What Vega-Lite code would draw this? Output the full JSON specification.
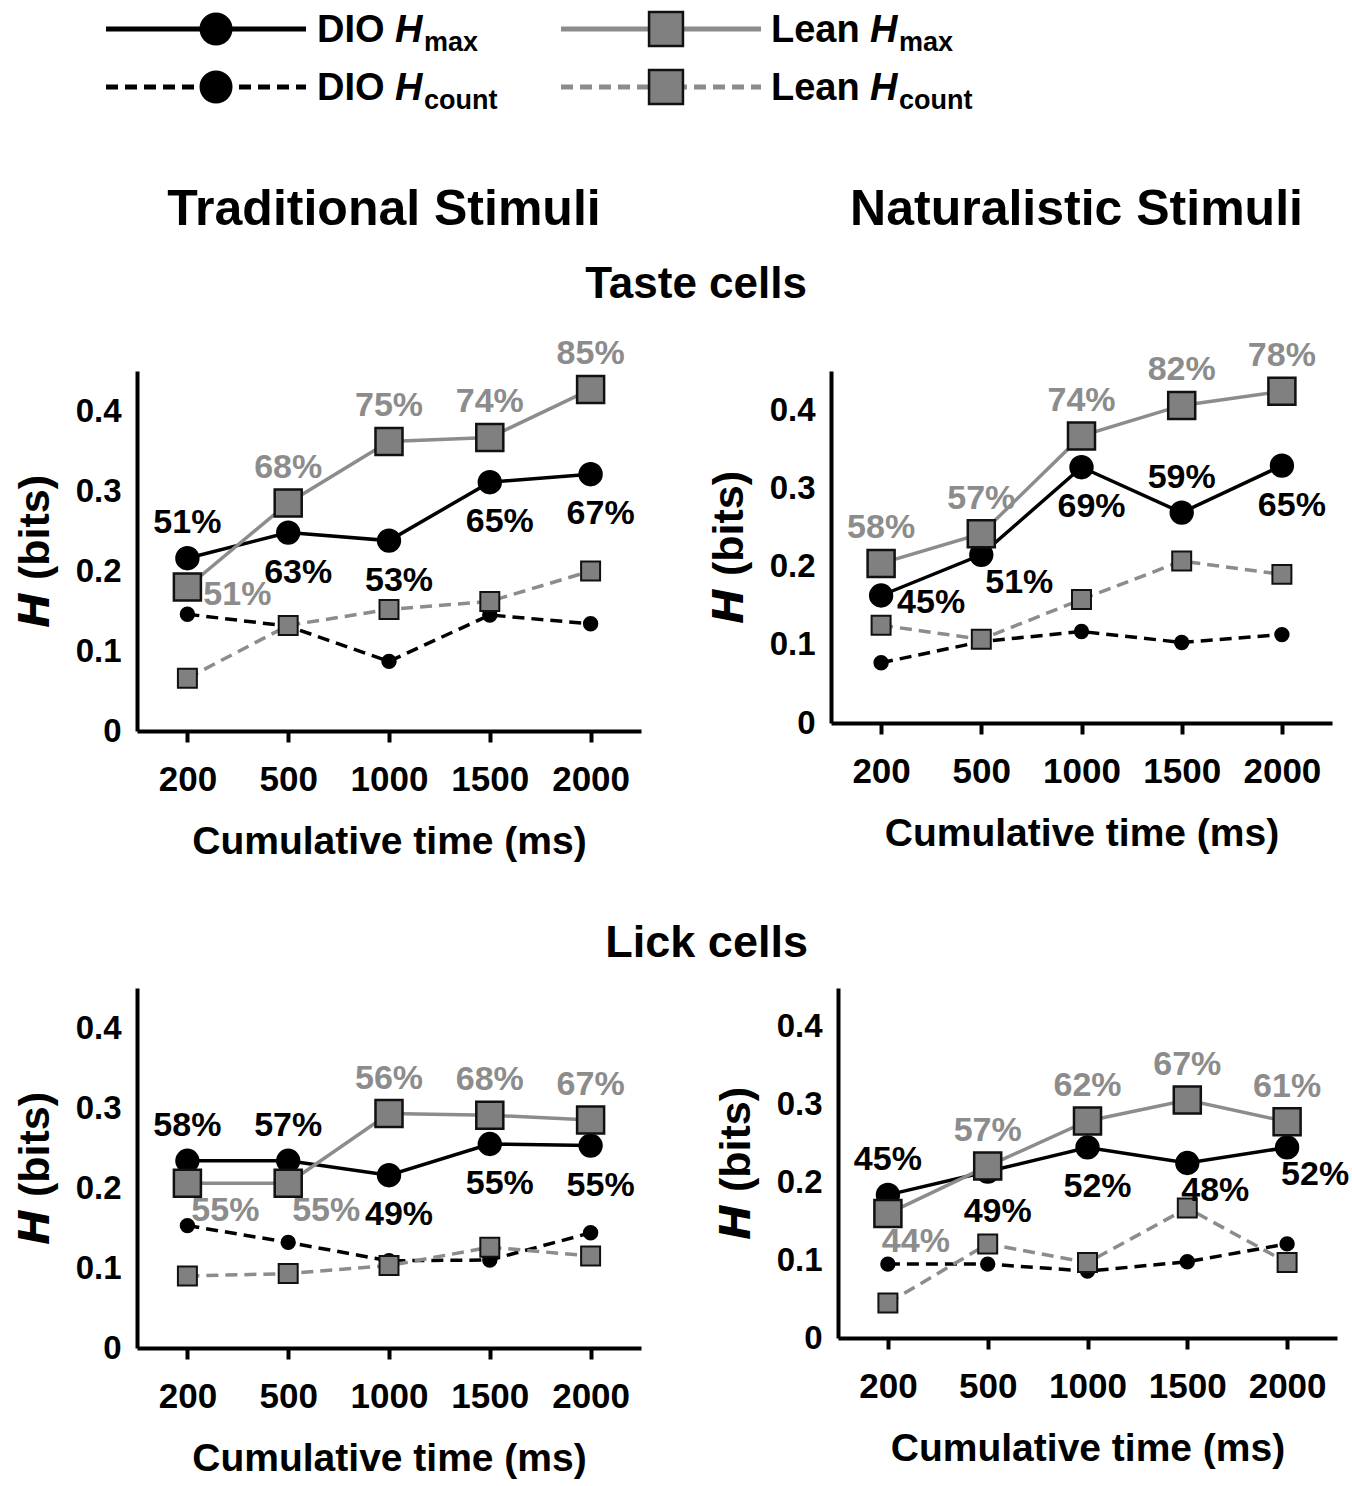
{
"$schema": "https://vega.github.io/schema/vega-lite/v6.json",
"padding": {"left": 14, "top": 0, "right": 0, "bottom": 5},
"background": "white",
"datasets": {
"leg": [{"g":"DIO","m":"max"},{"g":"Lean","m":"max"},{"g":"DIO","m":"count"},{"g":"Lean","m":"count"}],
"pts": [
{"p":"TT","t":200,"g":"DIO","m":"max","H":0.216,"lab":"51%","pos":"above"},
{"p":"TT","t":500,"g":"DIO","m":"max","H":0.248,"lab":"63%","pos":"below"},
{"p":"TT","t":1000,"g":"DIO","m":"max","H":0.238,"lab":"53%","pos":"below"},
{"p":"TT","t":1500,"g":"DIO","m":"max","H":0.311,"lab":"65%","pos":"below"},
{"p":"TT","t":2000,"g":"DIO","m":"max","H":0.321,"lab":"67%","pos":"below"},
{"p":"TT","t":200,"g":"Lean","m":"max","H":0.18,"lab":"51%","pos":"right"},
{"p":"TT","t":500,"g":"Lean","m":"max","H":0.285,"lab":"68%","pos":"above"},
{"p":"TT","t":1000,"g":"Lean","m":"max","H":0.362,"lab":"75%","pos":"above"},
{"p":"TT","t":1500,"g":"Lean","m":"max","H":0.367,"lab":"74%","pos":"above"},
{"p":"TT","t":2000,"g":"Lean","m":"max","H":0.427,"lab":"85%","pos":"above"},
{"p":"TT","t":200,"g":"DIO","m":"count","H":0.146},
{"p":"TT","t":500,"g":"DIO","m":"count","H":0.131},
{"p":"TT","t":1000,"g":"DIO","m":"count","H":0.087},
{"p":"TT","t":1500,"g":"DIO","m":"count","H":0.145},
{"p":"TT","t":2000,"g":"DIO","m":"count","H":0.134},
{"p":"TT","t":200,"g":"Lean","m":"count","H":0.066},
{"p":"TT","t":500,"g":"Lean","m":"count","H":0.132},
{"p":"TT","t":1000,"g":"Lean","m":"count","H":0.152},
{"p":"TT","t":1500,"g":"Lean","m":"count","H":0.162},
{"p":"TT","t":2000,"g":"Lean","m":"count","H":0.2},
{"p":"NT","t":200,"g":"DIO","m":"max","H":0.163,"lab":"45%","pos":"right"},
{"p":"NT","t":500,"g":"DIO","m":"max","H":0.215,"lab":"51%","pos":"belowright"},
{"p":"NT","t":1000,"g":"DIO","m":"max","H":0.327,"lab":"69%","pos":"below"},
{"p":"NT","t":1500,"g":"DIO","m":"max","H":0.269,"lab":"59%","pos":"above"},
{"p":"NT","t":2000,"g":"DIO","m":"max","H":0.329,"lab":"65%","pos":"below"},
{"p":"NT","t":200,"g":"Lean","m":"max","H":0.204,"lab":"58%","pos":"above"},
{"p":"NT","t":500,"g":"Lean","m":"max","H":0.242,"lab":"57%","pos":"above"},
{"p":"NT","t":1000,"g":"Lean","m":"max","H":0.367,"lab":"74%","pos":"above"},
{"p":"NT","t":1500,"g":"Lean","m":"max","H":0.406,"lab":"82%","pos":"above"},
{"p":"NT","t":2000,"g":"Lean","m":"max","H":0.424,"lab":"78%","pos":"above"},
{"p":"NT","t":200,"g":"DIO","m":"count","H":0.077},
{"p":"NT","t":500,"g":"DIO","m":"count","H":0.104},
{"p":"NT","t":1000,"g":"DIO","m":"count","H":0.117},
{"p":"NT","t":1500,"g":"DIO","m":"count","H":0.103},
{"p":"NT","t":2000,"g":"DIO","m":"count","H":0.113},
{"p":"NT","t":200,"g":"Lean","m":"count","H":0.125},
{"p":"NT","t":500,"g":"Lean","m":"count","H":0.107},
{"p":"NT","t":1000,"g":"Lean","m":"count","H":0.158},
{"p":"NT","t":1500,"g":"Lean","m":"count","H":0.207},
{"p":"NT","t":2000,"g":"Lean","m":"count","H":0.19},
{"p":"TL","t":200,"g":"DIO","m":"max","H":0.234,"lab":"58%","pos":"above"},
{"p":"TL","t":500,"g":"DIO","m":"max","H":0.234,"lab":"57%","pos":"above"},
{"p":"TL","t":1000,"g":"DIO","m":"max","H":0.216,"lab":"49%","pos":"below"},
{"p":"TL","t":1500,"g":"DIO","m":"max","H":0.255,"lab":"55%","pos":"below"},
{"p":"TL","t":2000,"g":"DIO","m":"max","H":0.253,"lab":"55%","pos":"below"},
{"p":"TL","t":200,"g":"Lean","m":"max","H":0.206,"lab":"55%","pos":"belowright"},
{"p":"TL","t":500,"g":"Lean","m":"max","H":0.206,"lab":"55%","pos":"belowright"},
{"p":"TL","t":1000,"g":"Lean","m":"max","H":0.293,"lab":"56%","pos":"above"},
{"p":"TL","t":1500,"g":"Lean","m":"max","H":0.291,"lab":"68%","pos":"above"},
{"p":"TL","t":2000,"g":"Lean","m":"max","H":0.285,"lab":"67%","pos":"above"},
{"p":"TL","t":200,"g":"DIO","m":"count","H":0.153},
{"p":"TL","t":500,"g":"DIO","m":"count","H":0.132},
{"p":"TL","t":1000,"g":"DIO","m":"count","H":0.109},
{"p":"TL","t":1500,"g":"DIO","m":"count","H":0.11},
{"p":"TL","t":2000,"g":"DIO","m":"count","H":0.144},
{"p":"TL","t":200,"g":"Lean","m":"count","H":0.09},
{"p":"TL","t":500,"g":"Lean","m":"count","H":0.093},
{"p":"TL","t":1000,"g":"Lean","m":"count","H":0.103},
{"p":"TL","t":1500,"g":"Lean","m":"count","H":0.126},
{"p":"TL","t":2000,"g":"Lean","m":"count","H":0.115},
{"p":"NL","t":200,"g":"DIO","m":"max","H":0.184,"lab":"45%","pos":"above"},
{"p":"NL","t":500,"g":"DIO","m":"max","H":0.214,"lab":"49%","pos":"below"},
{"p":"NL","t":1000,"g":"DIO","m":"max","H":0.245,"lab":"52%","pos":"below"},
{"p":"NL","t":1500,"g":"DIO","m":"max","H":0.225,"lab":"48%","pos":"belowright"},
{"p":"NL","t":2000,"g":"DIO","m":"max","H":0.245,"lab":"52%","pos":"belowright"},
{"p":"NL","t":200,"g":"Lean","m":"max","H":0.16,"lab":"44%","pos":"belowright"},
{"p":"NL","t":500,"g":"Lean","m":"max","H":0.221,"lab":"57%","pos":"above"},
{"p":"NL","t":1000,"g":"Lean","m":"max","H":0.279,"lab":"62%","pos":"above"},
{"p":"NL","t":1500,"g":"Lean","m":"max","H":0.306,"lab":"67%","pos":"above"},
{"p":"NL","t":2000,"g":"Lean","m":"max","H":0.278,"lab":"61%","pos":"above"},
{"p":"NL","t":200,"g":"DIO","m":"count","H":0.095},
{"p":"NL","t":500,"g":"DIO","m":"count","H":0.095},
{"p":"NL","t":1000,"g":"DIO","m":"count","H":0.086},
{"p":"NL","t":1500,"g":"DIO","m":"count","H":0.098},
{"p":"NL","t":2000,"g":"DIO","m":"count","H":0.121},
{"p":"NL","t":200,"g":"Lean","m":"count","H":0.045},
{"p":"NL","t":500,"g":"Lean","m":"count","H":0.121},
{"p":"NL","t":1000,"g":"Lean","m":"count","H":0.097},
{"p":"NL","t":1500,"g":"Lean","m":"count","H":0.167},
{"p":"NL","t":2000,"g":"Lean","m":"count","H":0.097}
]
},
"config": {
"view": {"stroke": null},
"legend": {"disable": true},
"text": {"font": "Liberation Sans", "fontWeight": "bold", "fontSize": 34},
"title": {"font": "Liberation Sans", "fontWeight": "bold", "color": "#000000", "anchor": "middle"},
"axis": {"domainColor": "#000000", "domainWidth": 4, "labelFont": "Liberation Sans", "labelFontWeight": "bold", "labelColor": "#000000", "titleFont": "Liberation Sans", "titleFontWeight": "bold", "titleColor": "#000000", "grid": false, "tickColor": "#000000", "tickWidth": 4},
"axisX": {"tickSize": 11, "labelPadding": 20, "titlePadding": 25, "titleFontSize": 39, "labelFontSize": 35, "labelAngle": 0},
"axisY": {"ticks": false, "tickSize": 0, "labelPadding": 16, "titlePadding": 18, "titleFontSize": 43, "labelFontSize": 33}
},
"spacing": 10,
"vconcat": [
{
"data": {"name": "leg"},
"width": 1058, "height": 174,
"encoding": {
"x": {"field": "g", "type": "nominal", "scale": {"type": "point", "domain": ["DIO", "Lean", "_"], "padding": 0.1756}, "axis": null},
"y": {"field": "m", "type": "nominal", "scale": {"type": "point", "domain": ["max", "count", "_"], "padding": 0.5}, "axis": null}
},
"layer": [
{"transform": [{"filter": "datum.g=='DIO'&&datum.m=='max'"}], "mark": {"type": "rule", "xOffset": -110, "x2Offset": 90, "strokeWidth": 5, "color": "#000000"}, "encoding": {"x2": {"field": "g"}}},
{"transform": [{"filter": "datum.g=='DIO'&&datum.m=='count'"}], "mark": {"type": "rule", "xOffset": -110, "x2Offset": 90, "strokeWidth": 5, "color": "#000000", "strokeDash": [12, 7]}, "encoding": {"x2": {"field": "g"}}},
{"transform": [{"filter": "datum.g=='Lean'&&datum.m=='max'"}], "mark": {"type": "rule", "xOffset": -105, "x2Offset": 95, "strokeWidth": 5, "color": "#8c8c8c"}, "encoding": {"x2": {"field": "g"}}},
{"transform": [{"filter": "datum.g=='Lean'&&datum.m=='count'"}], "mark": {"type": "rule", "xOffset": -105, "x2Offset": 95, "strokeWidth": 5, "color": "#8c8c8c", "strokeDash": [12, 7]}, "encoding": {"x2": {"field": "g"}}},
{"transform": [{"filter": "datum.g=='DIO'"}], "mark": {"type": "point", "shape": "circle", "filled": true, "size": 960, "fill": "#000000", "stroke": "#000000", "opacity": 1}},
{"transform": [{"filter": "datum.g=='Lean'"}], "mark": {"type": "point", "shape": "square", "filled": true, "size": 1150, "fill": "#808080", "stroke": "#111111", "strokeWidth": 2.5, "opacity": 1}},
{"transform": [{"filter": "datum.g=='DIO'"}], "mark": {"type": "text", "align": "left", "baseline": "alphabetic", "dx": 101, "dy": 13, "fontSize": 38}, "encoding": {"text": {"field": "g"}}},
{"transform": [{"filter": "datum.g=='DIO'"}], "mark": {"type": "text", "align": "left", "baseline": "alphabetic", "dx": 179, "dy": 13, "fontSize": 38, "fontStyle": "italic", "text": "H"}},
{"transform": [{"filter": "datum.g=='DIO'"}], "mark": {"type": "text", "align": "left", "baseline": "alphabetic", "dx": 208, "dy": 22, "fontSize": 27}, "encoding": {"text": {"field": "m"}}},
{"transform": [{"filter": "datum.g=='Lean'"}], "mark": {"type": "text", "align": "left", "baseline": "alphabetic", "dx": 105, "dy": 13, "fontSize": 38}, "encoding": {"text": {"field": "g"}}},
{"transform": [{"filter": "datum.g=='Lean'"}], "mark": {"type": "text", "align": "left", "baseline": "alphabetic", "dx": 204, "dy": 13, "fontSize": 38, "fontStyle": "italic", "text": "H"}},
{"transform": [{"filter": "datum.g=='Lean'"}], "mark": {"type": "text", "align": "left", "baseline": "alphabetic", "dx": 233, "dy": 22, "fontSize": 27}, "encoding": {"text": {"field": "m"}}}
]
},
{
"spacing": 189,
"hconcat": [
{"width": 504, "height": 1, "data": {"values": [{}]}, "mark": {"type": "point", "opacity": 0}, "title": {"text": "Traditional Stimuli", "fontSize": 50, "dx": -5, "offset": 12}},
{"width": 501, "height": 1, "data": {"values": [{}]}, "mark": {"type": "point", "opacity": 0}, "title": {"text": "Naturalistic Stimuli", "fontSize": 50, "dx": -4, "offset": 12}}
]
},
{
"spacing": 60,
"vconcat": [
{
"title": {"text": "Taste cells", "fontSize": 44, "dx": 23, "offset": 30},
"spacing": 67,
"hconcat": [
{
"width": 504, "height": 360,
"data": {"name": "pts"},
"transform": [{"filter": "datum.p=='TT'"}],
"encoding": {
"x": {"field": "t", "type": "ordinal", "scale": {"type": "point", "padding": 0.5, "domain": [200, 500, 1000, 1500, 2000]}, "title": "Cumulative time (ms)"},
"y": {"field": "H", "type": "quantitative", "scale": {"domain": [0, 0.45], "nice": false}, "axis": {"values": [0, 0.1, 0.2, 0.3, 0.4], "labelExpr": "datum.value == 0 ? '0' : format(datum.value, '.1f')"}, "title": "𝙃 (bits)"}
},
"layer": [
{"transform": [{"filter": "datum.g=='DIO'&&datum.m=='count'"}], "mark": {"type": "line", "color": "#000000", "strokeWidth": 3.5, "strokeDash": [12, 7]}, "encoding": {"order": {"field": "t", "type": "quantitative"}}},
{"transform": [{"filter": "datum.g=='Lean'&&datum.m=='count'"}], "mark": {"type": "line", "color": "#8c8c8c", "strokeWidth": 3.5, "strokeDash": [12, 7]}, "encoding": {"order": {"field": "t", "type": "quantitative"}}},
{"transform": [{"filter": "datum.g=='DIO'&&datum.m=='max'"}], "mark": {"type": "line", "color": "#000000", "strokeWidth": 3.5}, "encoding": {"order": {"field": "t", "type": "quantitative"}}},
{"transform": [{"filter": "datum.g=='Lean'&&datum.m=='max'"}], "mark": {"type": "line", "color": "#8c8c8c", "strokeWidth": 3.5}, "encoding": {"order": {"field": "t", "type": "quantitative"}}},
{"transform": [{"filter": "datum.g=='DIO'&&datum.m=='count'"}], "mark": {"type": "point", "shape": "circle", "filled": true, "size": 180, "fill": "#000000", "stroke": "#000000", "opacity": 1}},
{"transform": [{"filter": "datum.g=='Lean'&&datum.m=='count'"}], "mark": {"type": "point", "shape": "square", "filled": true, "size": 360, "fill": "#808080", "stroke": "#111111", "strokeWidth": 2, "opacity": 1}},
{"transform": [{"filter": "datum.g=='DIO'&&datum.m=='max'"}], "mark": {"type": "point", "shape": "circle", "filled": true, "size": 500, "fill": "#000000", "stroke": "#000000", "opacity": 1}},
{"transform": [{"filter": "datum.g=='Lean'&&datum.m=='max'"}], "mark": {"type": "point", "shape": "square", "filled": true, "size": 730, "fill": "#808080", "stroke": "#111111", "strokeWidth": 2.5, "opacity": 1}},
{"transform": [{"filter": "datum.pos=='above'"}], "mark": {"type": "text", "dy": -35, "baseline": "middle"}, "encoding": {"text": {"field": "lab"}, "color": {"field": "g", "type": "nominal", "scale": {"domain": ["DIO", "Lean"], "range": ["#000000", "#8c8c8c"]}, "legend": null}}},
{"transform": [{"filter": "datum.pos=='below'"}], "mark": {"type": "text", "dy": 40, "dx": 10, "baseline": "middle"}, "encoding": {"text": {"field": "lab"}, "color": {"field": "g", "type": "nominal", "scale": {"domain": ["DIO", "Lean"], "range": ["#000000", "#8c8c8c"]}, "legend": null}}},
{"transform": [{"filter": "datum.pos=='right'"}], "mark": {"type": "text", "dy": 8, "dx": 50, "baseline": "middle"}, "encoding": {"text": {"field": "lab"}, "color": {"field": "g", "type": "nominal", "scale": {"domain": ["DIO", "Lean"], "range": ["#000000", "#8c8c8c"]}, "legend": null}}},
{"transform": [{"filter": "datum.pos=='belowright'"}], "mark": {"type": "text", "dy": 28, "dx": 38, "baseline": "middle"}, "encoding": {"text": {"field": "lab"}, "color": {"field": "g", "type": "nominal", "scale": {"domain": ["DIO", "Lean"], "range": ["#000000", "#8c8c8c"]}, "legend": null}}}
]
},
{
"width": 501, "height": 352,
"data": {"name": "pts"},
"transform": [{"filter": "datum.p=='NT'"}],
"encoding": {
"x": {"field": "t", "type": "ordinal", "scale": {"type": "point", "padding": 0.5, "domain": [200, 500, 1000, 1500, 2000]}, "title": "Cumulative time (ms)"},
"y": {"field": "H", "type": "quantitative", "scale": {"domain": [0, 0.45], "nice": false}, "axis": {"values": [0, 0.1, 0.2, 0.3, 0.4], "labelExpr": "datum.value == 0 ? '0' : format(datum.value, '.1f')"}, "title": "𝙃 (bits)"}
},
"layer": [
{"transform": [{"filter": "datum.g=='DIO'&&datum.m=='count'"}], "mark": {"type": "line", "color": "#000000", "strokeWidth": 3.5, "strokeDash": [12, 7]}, "encoding": {"order": {"field": "t", "type": "quantitative"}}},
{"transform": [{"filter": "datum.g=='Lean'&&datum.m=='count'"}], "mark": {"type": "line", "color": "#8c8c8c", "strokeWidth": 3.5, "strokeDash": [12, 7]}, "encoding": {"order": {"field": "t", "type": "quantitative"}}},
{"transform": [{"filter": "datum.g=='DIO'&&datum.m=='max'"}], "mark": {"type": "line", "color": "#000000", "strokeWidth": 3.5}, "encoding": {"order": {"field": "t", "type": "quantitative"}}},
{"transform": [{"filter": "datum.g=='Lean'&&datum.m=='max'"}], "mark": {"type": "line", "color": "#8c8c8c", "strokeWidth": 3.5}, "encoding": {"order": {"field": "t", "type": "quantitative"}}},
{"transform": [{"filter": "datum.g=='DIO'&&datum.m=='count'"}], "mark": {"type": "point", "shape": "circle", "filled": true, "size": 180, "fill": "#000000", "stroke": "#000000", "opacity": 1}},
{"transform": [{"filter": "datum.g=='Lean'&&datum.m=='count'"}], "mark": {"type": "point", "shape": "square", "filled": true, "size": 360, "fill": "#808080", "stroke": "#111111", "strokeWidth": 2, "opacity": 1}},
{"transform": [{"filter": "datum.g=='DIO'&&datum.m=='max'"}], "mark": {"type": "point", "shape": "circle", "filled": true, "size": 500, "fill": "#000000", "stroke": "#000000", "opacity": 1}},
{"transform": [{"filter": "datum.g=='Lean'&&datum.m=='max'"}], "mark": {"type": "point", "shape": "square", "filled": true, "size": 730, "fill": "#808080", "stroke": "#111111", "strokeWidth": 2.5, "opacity": 1}},
{"transform": [{"filter": "datum.pos=='above'"}], "mark": {"type": "text", "dy": -35, "baseline": "middle"}, "encoding": {"text": {"field": "lab"}, "color": {"field": "g", "type": "nominal", "scale": {"domain": ["DIO", "Lean"], "range": ["#000000", "#8c8c8c"]}, "legend": null}}},
{"transform": [{"filter": "datum.pos=='below'"}], "mark": {"type": "text", "dy": 40, "dx": 10, "baseline": "middle"}, "encoding": {"text": {"field": "lab"}, "color": {"field": "g", "type": "nominal", "scale": {"domain": ["DIO", "Lean"], "range": ["#000000", "#8c8c8c"]}, "legend": null}}},
{"transform": [{"filter": "datum.pos=='right'"}], "mark": {"type": "text", "dy": 8, "dx": 50, "baseline": "middle"}, "encoding": {"text": {"field": "lab"}, "color": {"field": "g", "type": "nominal", "scale": {"domain": ["DIO", "Lean"], "range": ["#000000", "#8c8c8c"]}, "legend": null}}},
{"transform": [{"filter": "datum.pos=='belowright'"}], "mark": {"type": "text", "dy": 28, "dx": 38, "baseline": "middle"}, "encoding": {"text": {"field": "lab"}, "color": {"field": "g", "type": "nominal", "scale": {"domain": ["DIO", "Lean"], "range": ["#000000", "#8c8c8c"]}, "legend": null}}}
]
}
]
},
{
"title": {"text": "Lick cells", "fontSize": 45, "dx": 25, "offset": 22},
"spacing": 74,
"hconcat": [
{
"width": 504, "height": 360,
"data": {"name": "pts"},
"transform": [{"filter": "datum.p=='TL'"}],
"encoding": {
"x": {"field": "t", "type": "ordinal", "scale": {"type": "point", "padding": 0.5, "domain": [200, 500, 1000, 1500, 2000]}, "title": "Cumulative time (ms)"},
"y": {"field": "H", "type": "quantitative", "scale": {"domain": [0, 0.45], "nice": false}, "axis": {"values": [0, 0.1, 0.2, 0.3, 0.4], "labelExpr": "datum.value == 0 ? '0' : format(datum.value, '.1f')"}, "title": "𝙃 (bits)"}
},
"layer": [
{"transform": [{"filter": "datum.g=='DIO'&&datum.m=='count'"}], "mark": {"type": "line", "color": "#000000", "strokeWidth": 3.5, "strokeDash": [12, 7]}, "encoding": {"order": {"field": "t", "type": "quantitative"}}},
{"transform": [{"filter": "datum.g=='Lean'&&datum.m=='count'"}], "mark": {"type": "line", "color": "#8c8c8c", "strokeWidth": 3.5, "strokeDash": [12, 7]}, "encoding": {"order": {"field": "t", "type": "quantitative"}}},
{"transform": [{"filter": "datum.g=='DIO'&&datum.m=='max'"}], "mark": {"type": "line", "color": "#000000", "strokeWidth": 3.5}, "encoding": {"order": {"field": "t", "type": "quantitative"}}},
{"transform": [{"filter": "datum.g=='Lean'&&datum.m=='max'"}], "mark": {"type": "line", "color": "#8c8c8c", "strokeWidth": 3.5}, "encoding": {"order": {"field": "t", "type": "quantitative"}}},
{"transform": [{"filter": "datum.g=='DIO'&&datum.m=='count'"}], "mark": {"type": "point", "shape": "circle", "filled": true, "size": 180, "fill": "#000000", "stroke": "#000000", "opacity": 1}},
{"transform": [{"filter": "datum.g=='Lean'&&datum.m=='count'"}], "mark": {"type": "point", "shape": "square", "filled": true, "size": 360, "fill": "#808080", "stroke": "#111111", "strokeWidth": 2, "opacity": 1}},
{"transform": [{"filter": "datum.g=='DIO'&&datum.m=='max'"}], "mark": {"type": "point", "shape": "circle", "filled": true, "size": 500, "fill": "#000000", "stroke": "#000000", "opacity": 1}},
{"transform": [{"filter": "datum.g=='Lean'&&datum.m=='max'"}], "mark": {"type": "point", "shape": "square", "filled": true, "size": 730, "fill": "#808080", "stroke": "#111111", "strokeWidth": 2.5, "opacity": 1}},
{"transform": [{"filter": "datum.pos=='above'"}], "mark": {"type": "text", "dy": -35, "baseline": "middle"}, "encoding": {"text": {"field": "lab"}, "color": {"field": "g", "type": "nominal", "scale": {"domain": ["DIO", "Lean"], "range": ["#000000", "#8c8c8c"]}, "legend": null}}},
{"transform": [{"filter": "datum.pos=='below'"}], "mark": {"type": "text", "dy": 40, "dx": 10, "baseline": "middle"}, "encoding": {"text": {"field": "lab"}, "color": {"field": "g", "type": "nominal", "scale": {"domain": ["DIO", "Lean"], "range": ["#000000", "#8c8c8c"]}, "legend": null}}},
{"transform": [{"filter": "datum.pos=='right'"}], "mark": {"type": "text", "dy": 8, "dx": 50, "baseline": "middle"}, "encoding": {"text": {"field": "lab"}, "color": {"field": "g", "type": "nominal", "scale": {"domain": ["DIO", "Lean"], "range": ["#000000", "#8c8c8c"]}, "legend": null}}},
{"transform": [{"filter": "datum.pos=='belowright'"}], "mark": {"type": "text", "dy": 28, "dx": 38, "baseline": "middle"}, "encoding": {"text": {"field": "lab"}, "color": {"field": "g", "type": "nominal", "scale": {"domain": ["DIO", "Lean"], "range": ["#000000", "#8c8c8c"]}, "legend": null}}}
]
},
{
"width": 499, "height": 350,
"data": {"name": "pts"},
"transform": [{"filter": "datum.p=='NL'"}],
"encoding": {
"x": {"field": "t", "type": "ordinal", "scale": {"type": "point", "padding": 0.5, "domain": [200, 500, 1000, 1500, 2000]}, "title": "Cumulative time (ms)"},
"y": {"field": "H", "type": "quantitative", "scale": {"domain": [0, 0.45], "nice": false}, "axis": {"values": [0, 0.1, 0.2, 0.3, 0.4], "labelExpr": "datum.value == 0 ? '0' : format(datum.value, '.1f')"}, "title": "𝙃 (bits)"}
},
"layer": [
{"transform": [{"filter": "datum.g=='DIO'&&datum.m=='count'"}], "mark": {"type": "line", "color": "#000000", "strokeWidth": 3.5, "strokeDash": [12, 7]}, "encoding": {"order": {"field": "t", "type": "quantitative"}}},
{"transform": [{"filter": "datum.g=='Lean'&&datum.m=='count'"}], "mark": {"type": "line", "color": "#8c8c8c", "strokeWidth": 3.5, "strokeDash": [12, 7]}, "encoding": {"order": {"field": "t", "type": "quantitative"}}},
{"transform": [{"filter": "datum.g=='DIO'&&datum.m=='max'"}], "mark": {"type": "line", "color": "#000000", "strokeWidth": 3.5}, "encoding": {"order": {"field": "t", "type": "quantitative"}}},
{"transform": [{"filter": "datum.g=='Lean'&&datum.m=='max'"}], "mark": {"type": "line", "color": "#8c8c8c", "strokeWidth": 3.5}, "encoding": {"order": {"field": "t", "type": "quantitative"}}},
{"transform": [{"filter": "datum.g=='DIO'&&datum.m=='count'"}], "mark": {"type": "point", "shape": "circle", "filled": true, "size": 180, "fill": "#000000", "stroke": "#000000", "opacity": 1}},
{"transform": [{"filter": "datum.g=='Lean'&&datum.m=='count'"}], "mark": {"type": "point", "shape": "square", "filled": true, "size": 360, "fill": "#808080", "stroke": "#111111", "strokeWidth": 2, "opacity": 1}},
{"transform": [{"filter": "datum.g=='DIO'&&datum.m=='max'"}], "mark": {"type": "point", "shape": "circle", "filled": true, "size": 500, "fill": "#000000", "stroke": "#000000", "opacity": 1}},
{"transform": [{"filter": "datum.g=='Lean'&&datum.m=='max'"}], "mark": {"type": "point", "shape": "square", "filled": true, "size": 730, "fill": "#808080", "stroke": "#111111", "strokeWidth": 2.5, "opacity": 1}},
{"transform": [{"filter": "datum.pos=='above'"}], "mark": {"type": "text", "dy": -35, "baseline": "middle"}, "encoding": {"text": {"field": "lab"}, "color": {"field": "g", "type": "nominal", "scale": {"domain": ["DIO", "Lean"], "range": ["#000000", "#8c8c8c"]}, "legend": null}}},
{"transform": [{"filter": "datum.pos=='below'"}], "mark": {"type": "text", "dy": 40, "dx": 10, "baseline": "middle"}, "encoding": {"text": {"field": "lab"}, "color": {"field": "g", "type": "nominal", "scale": {"domain": ["DIO", "Lean"], "range": ["#000000", "#8c8c8c"]}, "legend": null}}},
{"transform": [{"filter": "datum.pos=='right'"}], "mark": {"type": "text", "dy": 8, "dx": 50, "baseline": "middle"}, "encoding": {"text": {"field": "lab"}, "color": {"field": "g", "type": "nominal", "scale": {"domain": ["DIO", "Lean"], "range": ["#000000", "#8c8c8c"]}, "legend": null}}},
{"transform": [{"filter": "datum.pos=='belowright'"}], "mark": {"type": "text", "dy": 28, "dx": 28, "baseline": "middle"}, "encoding": {"text": {"field": "lab"}, "color": {"field": "g", "type": "nominal", "scale": {"domain": ["DIO", "Lean"], "range": ["#000000", "#8c8c8c"]}, "legend": null}}}
]
}
]
}
]
}
]
}
